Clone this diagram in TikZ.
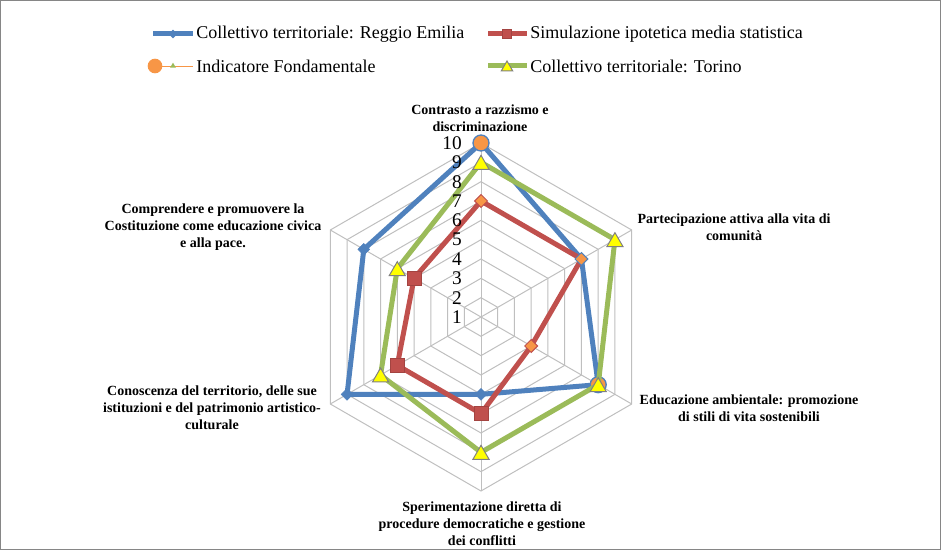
\documentclass[tikz,border=0pt]{standalone}
\usepackage{fontspec}
\setmainfont{Liberation Serif}
\usepackage{tikz}
\usetikzlibrary{shapes.geometric,positioning}
\definecolor{seriesblue}{RGB}{79,129,189}
\definecolor{seriesred}{RGB}{192,80,77}
\definecolor{seriesgreen}{RGB}{155,187,89}
\definecolor{markerorange}{RGB}{247,150,70}
\definecolor{markeryellow}{RGB}{255,255,0}
\definecolor{gridgray}{RGB}{191,191,191}
\definecolor{framegray}{RGB}{134,134,134}

\begin{document}
\begin{tikzpicture}[
    x=0.75pt, y=-0.75pt,
    gridline/.style={draw=gridgray, line width=0.75pt},
    axislabel/.style={align=center, inner sep=0pt,
                      font=\fontsize{10.5}{12.75}\selectfont\bfseries},
    ticklabel/.style={anchor=east, inner sep=0pt, font=\fontsize{14.5}{16}\selectfont},
    legendtext/.style={anchor=west, inner sep=0pt, font=\fontsize{13.5}{16}\selectfont},
    serie/.style={line width=3.75pt, line join=round},
    bluemark/.style={diamond, fill=seriesblue, draw=seriesblue, inner sep=0pt, minimum size=9pt},
    redmark/.style={rectangle, fill=seriesred, draw=seriesred!85!black, line width=0.5pt,
                    inner sep=0pt, minimum size=10.5pt},
    orangemark/.style={diamond, fill=markerorange, draw=seriesred, line width=0.75pt,
                       inner sep=0pt, minimum size=10pt},
    keymark/.style={circle, fill=markerorange, draw=seriesblue, line width=1pt,
                    inner sep=0pt, minimum size=12pt},
    trimark/.style={regular polygon, regular polygon sides=3, fill=markeryellow, draw=gray,
                    line width=0.75pt, inner sep=0pt, minimum size=14pt, yshift=-1.75pt}
]
\useasboundingbox (0,0) rectangle (946,552);
\draw[framegray, line width=0.75pt] (0.5,0.5) rectangle (940,549);

% grid and data
\begin{scope}[shift={(481,317)}]
  \coordinate (centre) at (0,0);
  \foreach \r in {1,...,9}
    \draw[gridline] (-90:{\r*19.333}) \foreach \a in {-30,30,...,210} {-- (\a:{\r*19.333})} -- cycle;
  \foreach \a in {-90,-30,...,210}
    \draw[gridline] (centre) -- (\a:174);
  \foreach \v [count=\k] in {10,7,8,5,9,8}
    \coordinate (re-\k) at ({-150+60*\k}:{(\v-1)*19.333});
  \foreach \v [count=\k] in {7,7,4,6,6,5}
    \coordinate (sim-\k) at ({-150+60*\k}:{(\v-1)*19.333});
  \foreach \v [count=\k] in {9,9,8,8,7,6}
    \coordinate (to-\k) at ({-150+60*\k}:{(\v-1)*19.333});
\end{scope}

\draw[serie, seriesblue] (re-1) -- (re-2) -- (re-3) -- (re-4) -- (re-5) -- (re-6) -- cycle;
\draw[serie, seriesred] (sim-1) -- (sim-2) -- (sim-3) -- (sim-4) -- (sim-5) -- (sim-6) -- cycle;

\foreach \k in {4,5,6}
  \node[bluemark] (mk-re-\k) at (re-\k) {};
\foreach \k in {4,5,6}
  \node[redmark] (mk-sim-\k) at (sim-\k) {};
\foreach \k in {1,3}
  \node[orangemark] (mk-sim-\k) at (sim-\k) {};
\node[orangemark, draw=seriesblue] (mk-sim-2) at (sim-2) {};
\node[keymark] (mk-key-1) at (re-1) {};
\node[keymark] (mk-key-3) at (re-3) {};

\draw[serie, seriesgreen] (to-1) -- (to-2) -- (to-3) -- (to-4) -- (to-5) -- (to-6) -- cycle;
\foreach \k in {1,...,6}
  \node[trimark] (mk-to-\k) at (to-\k) {};

% scale numbers on top of the series
\foreach \v in {1,...,10}
  \node[ticklabel] (tick-\v) at (462,{317-(\v-1)*19.333}) {\v};

% axis labels
\node[axislabel] (lab-contrasto) at (480,118) {Contrasto a razzismo e\\discriminazione};
\node[axislabel] (lab-partecipazione) at (734,227) {Partecipazione attiva alla vita di\\comunità};
\node[axislabel] (lab-ambiente) at (749,408) {Educazione ambientale: promozione\\di stili di vita sostenibili};
\node[axislabel] (lab-sperimentazione) at (482,524) {Sperimentazione diretta di\\procedure democratiche e gestione\\dei conflitti};
\node[axislabel] (lab-conoscenza) at (212,408) {Conoscenza del territorio, delle sue\\istituzioni e del patrimonio artistico-\\culturale};
\node[axislabel] (lab-costituzione) at (213,227) {Comprendere e promuovere la\\Costituzione come educazione civica\\e alla pace.};

% legend
\coordinate (leg-re-a) at (153,34);
\coordinate (leg-re-b) at (193,34);
\draw[serie, seriesblue] (leg-re-a) -- (leg-re-b);
\node[bluemark, minimum size=6pt] (leg-re-mark) at (173,34) {};
\node[legendtext] (leg-re-text) at (196,34) {Collettivo territoriale: Reggio Emilia};

\coordinate (leg-sim-a) at (488,34);
\coordinate (leg-sim-b) at (527,34);
\draw[serie, seriesred] (leg-sim-a) -- (leg-sim-b);
\node[redmark, minimum size=7pt] (leg-sim-mark) at (507,34) {};
\node[legendtext] (leg-sim-text) at (530,34) {Simulazione ipotetica media statistica};

\coordinate (leg-key-a) at (155,66);
\coordinate (leg-key-b) at (193,66);
\draw[markerorange, line width=0.6pt] (leg-key-a) -- (leg-key-b);
\node[keymark, draw=none, minimum size=11pt] (leg-key-mark) at (leg-key-a) {};
\node[regular polygon, regular polygon sides=3, fill=seriesgreen, inner sep=0pt,
      minimum size=5pt] (leg-key-tri) at (173,66) {};
\node[legendtext] (leg-key-text) at (196,66) {Indicatore Fondamentale};

\coordinate (leg-to-a) at (488,66);
\coordinate (leg-to-b) at (527,66);
\draw[serie, seriesgreen] (leg-to-a) -- (leg-to-b);
\node[trimark, minimum size=10pt, yshift=0.5pt] (leg-to-mark) at (507,66) {};
\node[legendtext] (leg-to-text) at (530,66) {Collettivo territoriale: Torino};
\end{tikzpicture}
\end{document}
